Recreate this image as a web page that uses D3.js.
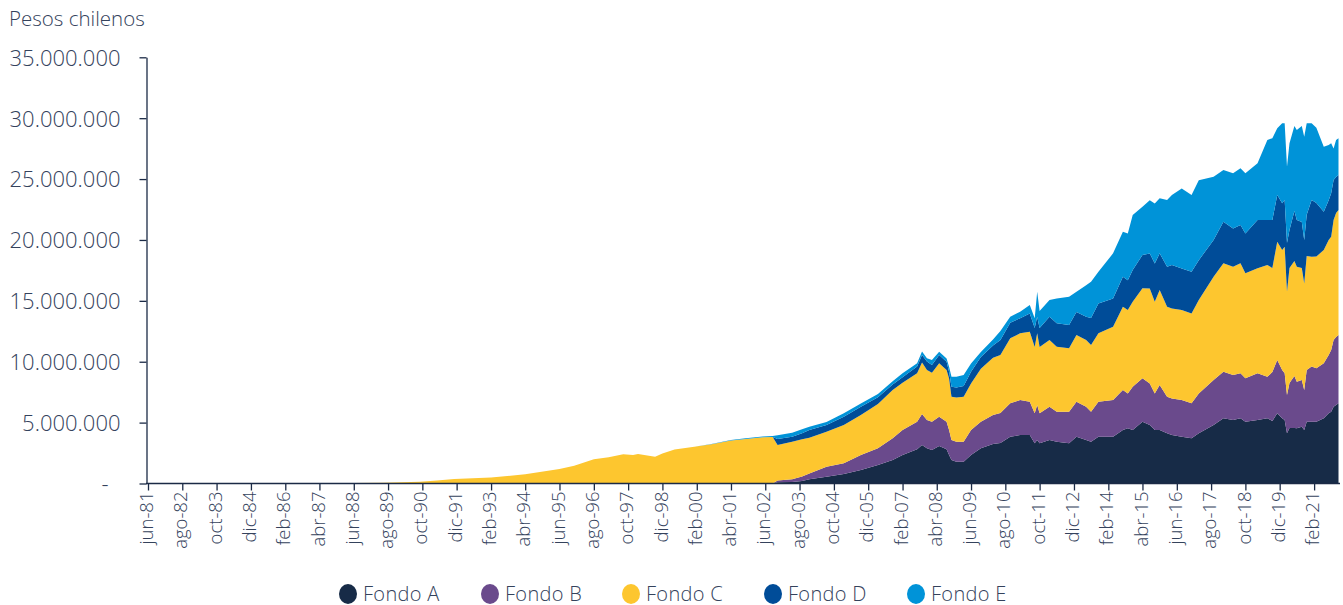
<!DOCTYPE html>
<html>
<head>
<meta charset="utf-8">
<script src="https://cdn.jsdelivr.net/npm/d3@7"></script>
<style>
  body { margin: 0; background: #ffffff; }
  svg text { font-family: "Open Sans", "Lato", sans-serif; font-weight: 300; fill: #34425c; }
</style>
</head>
<body>
<svg id="chart" width="1343" height="605"></svg>
<script>
// ---------------- DATA (millones de pesos) ----------------
const fechas = [
  "1981-06","1984-06","1987-06","1989-06","1990-09","1991-04","1991-11","1993-02","1994-04","1995-06",
  "1995-12","1996-08","1997-02","1997-08","1997-12","1998-02","1998-09","1998-12","1999-05","2000-01",
  "2000-08","2001-04","2001-10","2002-05","2002-09",
  "2002-11","2003-05","2003-09","2003-12","2004-07","2005-02","2005-09","2006-04","2006-10","2007-02",
  "2007-08","2007-10","2007-12","2008-02","2008-05","2008-08","2008-09","2008-10","2008-12","2009-03",
  "2009-06","2009-10","2010-03","2010-06","2010-10","2011-02","2011-06","2011-08","2011-09","2011-10",
  "2012-02","2012-05","2012-10","2013-01","2013-05","2013-07","2013-10","2014-04","2014-08","2014-10",
  "2014-12","2015-04","2015-07","2015-09","2015-11","2016-02","2016-04","2016-08","2016-12","2017-03",
  "2017-09","2018-01","2018-05","2018-08","2018-10","2019-03","2019-07","2019-09","2019-11","2020-01",
  "2020-02","2020-03","2020-04","2020-06","2020-07","2020-09","2020-10","2020-11","2021-01","2021-03",
  "2021-06","2021-08","2021-09","2021-10","2021-11","2021-12"
];

const fondoA = [
  0,0,0,0,0,0,0,0,0,0,
  0,0,0,0,0,0,0,0,0,0,
  0,0,0,0,0,
  0.10,0.12,0.21,0.34,0.56,0.78,1.11,1.52,1.93,2.34,
  2.81,3.16,2.89,2.75,3.08,2.81,2.34,1.93,1.79,1.79,
  2.34,2.89,3.24,3.33,3.84,3.98,3.98,3.30,3.57,3.30,
  3.57,3.43,3.30,3.84,3.57,3.43,3.84,3.84,4.39,4.53,
  4.39,5.08,4.80,4.39,4.39,4.12,3.98,3.84,3.71,4.12,
  4.80,5.35,5.21,5.35,5.08,5.21,5.35,5.13,5.76,5.35,
  5.21,4.12,4.56,4.56,4.53,4.66,4.39,5.08,5.08,5.08,
  5.35,5.76,5.90,6.31,6.45,6.59
];

const fondoB = [
  0,0,0,0,0,0,0,0,0,0,
  0,0,0,0,0,0,0,0,0,0,
  0,0,0,0,0,
  0.14,0.22,0.36,0.49,0.82,0.88,1.23,1.37,1.78,2.05,
  2.27,2.55,2.33,2.33,2.41,2.27,2.05,1.64,1.64,1.64,
  2.05,2.19,2.38,2.46,2.74,2.87,2.73,2.46,2.87,2.46,
  2.73,2.46,2.60,2.87,2.73,2.46,2.87,3.01,3.28,2.87,
  3.56,3.56,3.42,3.01,3.70,3.01,3.01,3.01,2.87,3.28,
  3.70,3.83,3.70,3.70,3.56,3.84,3.42,4.02,4.38,3.97,
  3.84,3.15,3.70,4.27,3.83,3.84,3.28,4.25,4.52,4.39,
  4.52,4.79,5.07,5.48,5.58,5.61
];

const fondoC = [
  0,0.01,0.03,0.06,0.15,0.25,0.37,0.50,0.75,1.19,
  1.46,1.99,2.15,2.40,2.35,2.42,2.20,2.47,2.80,3.02,
  3.23,3.53,3.66,3.79,3.82,
  2.93,3.09,3.07,2.93,2.87,3.15,3.28,3.64,3.97,3.89,
  3.97,4.22,4.11,4.02,4.38,4.24,4.24,3.56,3.64,3.70,
  3.83,4.35,4.71,4.76,5.34,5.48,5.75,5.44,5.89,5.44,
  5.48,5.34,5.21,5.48,5.48,5.48,5.62,6.02,6.84,6.84,
  6.98,7.39,7.80,7.52,7.80,7.39,7.39,7.39,7.39,7.66,
  8.48,8.90,8.89,9.03,8.62,8.62,9.17,8.54,9.72,9.85,
  10.40,8.48,9.44,9.44,9.44,9.20,8.76,9.36,9.03,9.17,
  9.30,9.44,9.30,9.85,10.18,10.27
];

const fondoD = [
  0,0,0,0,0,0,0,0,0,0,
  0,0,0,0,0,0,0,0,0,0,
  0,0,0,0,0,
  0.49,0.41,0.49,0.63,0.55,0.68,0.68,0.55,0.45,0.44,
  0.55,0.63,0.68,0.63,0.68,0.68,0.55,0.82,0.82,0.88,
  0.96,0.96,1.00,1.23,1.28,1.25,1.51,1.56,1.36,1.56,
  1.91,1.92,1.91,1.89,1.91,2.22,2.46,2.33,2.46,2.46,
  2.60,2.73,2.87,3.15,3.01,3.28,3.56,3.42,3.42,3.28,
  3.01,3.42,3.15,3.15,3.28,3.97,3.70,3.94,3.84,3.84,
  3.84,4.00,3.12,4.11,3.84,3.78,3.56,3.37,4.66,4.39,
  3.15,3.28,3.56,3.28,2.96,2.87
];

const fondoE = [
  0,0,0,0,0,0,0,0,0,0,
  0,0,0,0,0,0,0,0,0,0,
  0.02,0.04,0.05,0.06,0.08,
  0.30,0.33,0.33,0.27,0.25,0.27,0.27,0.27,0.27,0.33,
  0.27,0.27,0.27,0.41,0.27,0.27,0.41,0.82,0.88,0.90,
  0.68,0.41,0.50,0.74,0.50,0.53,0.68,0.82,2.05,1.40,
  1.37,2.05,2.32,1.67,2.60,2.98,2.60,3.70,3.70,3.84,
  4.52,3.97,4.38,4.93,4.52,5.48,5.75,6.57,6.30,6.57,
  5.20,4.25,4.52,4.66,4.93,4.66,6.57,6.73,5.48,6.57,
  6.30,6.27,7.12,6.98,7.39,7.88,8.48,7.53,6.30,6.18,
  5.34,4.52,4.11,2.60,3.04,3.01
];

const nombres = ["Fondo A","Fondo B","Fondo C","Fondo D","Fondo E"];
const colores = ["#172b47","#6a4a8c","#fdc62f","#004c98","#0093d8"];
const yTicks = [0,5,10,15,20,25,30,35];
const yTickLabels = ["-","5.000.000","10.000.000","15.000.000","20.000.000","25.000.000","30.000.000","35.000.000"];
const xTickLabels = ["jun-81","ago-82","oct-83","dic-84","feb-86","abr-87","jun-88","ago-89","oct-90","dic-91",
  "feb-93","abr-94","jun-95","ago-96","oct-97","dic-98","feb-00","abr-01","jun-02","ago-03",
  "oct-04","dic-05","feb-07","abr-08","jun-09","ago-10","oct-11","dic-12","feb-14","abr-15",
  "jun-16","ago-17","oct-18","dic-19","feb-21"];
const unidad = "Pesos chilenos";

// ---------------- CHART ----------------
const svg = d3.select("#chart");
const parse = d3.timeParse("%Y-%m");
const meses = {ene:0,feb:1,mar:2,abr:3,may:4,jun:5,jul:6,ago:7,sep:8,oct:9,nov:10,dic:11};
const parseLabel = s => {
  const [m, yy] = s.split("-");
  const n = +yy;
  return new Date(n >= 50 ? 1900 + n : 2000 + n, meses[m], 1);
};

const keys = ["A","B","C","D","E"];
const seriesArr = [fondoA, fondoB, fondoC, fondoD, fondoE];
const rows = fechas.map((f, i) => {
  const r = {date: parse(f)};
  keys.forEach((k, j) => r[k] = seriesArr[j][i]);
  return r;
});

const x = d3.scaleTime()
  .domain([parse(fechas[0]), parse(fechas[fechas.length - 1])])
  .range([148, 1338.5]);
const y = d3.scaleLinear().domain([0, 35]).range([483.5, 57.3]);

const stacked = d3.stack().keys(keys)(rows);
const area = d3.area()
  .x(d => x(d.data.date))
  .y0(d => y(d[0]))
  .y1(d => y(d[1]));

svg.append("g").selectAll("path")
  .data(stacked)
  .join("path")
  .attr("fill", (d, i) => colores[i])
  .attr("d", area);

const axisColor = "#1b2a46";

// Y axis
const yAxis = svg.append("g")
  .attr("transform", "translate(146.5,0)")
  .call(d3.axisLeft(y).tickValues(yTicks).tickSize(7).tickSizeOuter(0).tickPadding(19)
    .tickFormat((d, i) => yTickLabels[i]));
yAxis.select(".domain").attr("stroke", axisColor).attr("stroke-width", 1.3);
yAxis.selectAll(".tick line").attr("stroke", axisColor).attr("stroke-width", 1.3);
yAxis.selectAll(".tick text")
  .style("font-size", "22px")
  .attr("dy", "0.36em")
  .attr("dx", (d) => d === 0 ? -12 : 0);

// X axis
const tickDates = xTickLabels.map(parseLabel);
const xAxis = svg.append("g")
  .attr("transform", "translate(0,483.5)")
  .call(d3.axisBottom(x).tickValues(tickDates).tickSize(7).tickSizeOuter(0)
    .tickFormat((d, i) => xTickLabels[i]));
xAxis.select(".domain").remove();
xAxis.append("line")
  .attr("x1", 146).attr("x2", 1340).attr("y1", 0).attr("y2", 0)
  .attr("stroke", axisColor).attr("stroke-width", 1.5);
xAxis.selectAll(".tick line").attr("stroke", axisColor).attr("stroke-width", 1.3);
xAxis.selectAll(".tick text")
  .style("font-size", "18.5px")
  .attr("text-anchor", "end")
  .attr("transform", "rotate(-90)")
  .attr("x", -8)
  .attr("y", 0)
  .attr("dy", "0.25em");

// Unit label
svg.append("text")
  .attr("x", 9).attr("y", 26)
  .style("font-size", "20.5px")
  .text(unidad);

// Legend
const legend = svg.append("g");
const legendX = [348, 490, 631, 773, 916];
nombres.forEach((n, i) => {
  const g = legend.append("g").attr("transform", `translate(${legendX[i]},594)`);
  g.append("ellipse").attr("rx", 9).attr("ry", 10).attr("fill", colores[i]);
  g.append("text").attr("x", 15).attr("y", 6.5).style("font-size", "20px")
    .style("letter-spacing", "0.3px").text(n);
});
</script>
</body>
</html>
